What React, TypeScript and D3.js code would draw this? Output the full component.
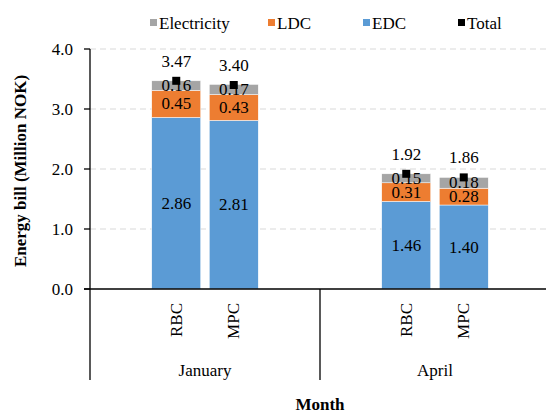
import React from "react";
import * as d3 from "d3";

const months = ["January", "April"];
const strategies = ["RBC", "MPC"];
// order of bars: January RBC, January MPC, April RBC, April MPC
const edc = [2.86, 2.81, 1.46, 1.4];
const ldc = [0.45, 0.43, 0.31, 0.28];
const electricity = [0.16, 0.17, 0.15, 0.18];
const total = [3.47, 3.4, 1.92, 1.86];
const yTicks = [0, 1, 2, 3, 4];

const colors: Record<string, string> = {
  Electricity: "#A5A5A5",
  LDC: "#ED7D31",
  EDC: "#5B9BD5",
};

const W = 546;
const H = 412;
const FONT = '"Liberation Serif", "Times New Roman", Times, serif';
const ts: React.CSSProperties = { fontFamily: FONT, fontSize: 17 };
const tsb: React.CSSProperties = { fontFamily: FONT, fontSize: 17, fontWeight: "bold" };

export default function App() {
  const x0 = d3.scaleBand<string>().domain(months).range([90, 550]).padding(0);
  const x1 = d3
    .scaleBand<string>()
    .domain(strategies)
    .range([0, x0.bandwidth()])
    .paddingInner(0.148)
    .paddingOuter(1.074);
  const y = d3.scaleLinear().domain([0, 4]).range([289, 49]);

  const bars = months.flatMap((m, mi) =>
    strategies.map((s, si) => {
      const i = mi * strategies.length + si;
      return {
        month: m,
        strat: s,
        x: (x0(m) as number) + (x1(s) as number),
        segs: [
          { name: "EDC", v: edc[i] },
          { name: "LDC", v: ldc[i] },
          { name: "Electricity", v: electricity[i] },
        ],
        total: total[i],
      };
    })
  );
  const bw = x1.bandwidth();

  const legendItems = [
    { name: "Electricity", color: colors.Electricity, sq: 150 },
    { name: "LDC", color: colors.LDC, sq: 268 },
    { name: "EDC", color: colors.EDC, sq: 363 },
    { name: "Total", color: "#000", sq: 458 },
  ];

  return (
    <svg
      width={W}
      height={H}
      style={{ position: "fixed", left: 0, top: 0, background: "#fff", fontFamily: FONT }}
    >
      <rect width={W} height={H} fill="#fff" />
      {yTicks.slice(1).map((t) => (
        <line
          key={"g" + t}
          x1={90}
          x2={550}
          y1={y(t)}
          y2={y(t)}
          stroke="#D9D9D9"
          strokeWidth={1}
          strokeDasharray="6,4"
        />
      ))}
      {bars.map((b, bi) => {
        let acc = 0;
        return (
          <g key={"b" + bi}>
            {b.segs.map((sg) => {
              const y0 = acc;
              acc += sg.v;
              const top = y(acc);
              const bot = y(y0);
              return (
                <g key={sg.name}>
                  <rect
                    x={b.x}
                    y={top}
                    width={bw}
                    height={bot - top}
                    fill={colors[sg.name]}
                    stroke="#fff"
                    strokeWidth={0.5}
                  />
                  <text
                    x={b.x + bw / 2}
                    y={(top + bot) / 2}
                    textAnchor="middle"
                    dominantBaseline="central"
                    style={ts}
                    fill="#000"
                  >
                    {sg.v.toFixed(2)}
                  </text>
                </g>
              );
            })}
            <rect
              x={b.x + bw / 2 - 4}
              y={y(b.total) - 4}
              width={8}
              height={8}
              fill="#000"
            />
            <text
              x={b.x + bw / 2}
              y={y(b.total) - 14}
              textAnchor="middle"
              style={ts}
              fill="#000"
            >
              {b.total.toFixed(2)}
            </text>
            <text
              transform={`translate(${b.x + bw / 2},303) rotate(-90)`}
              textAnchor="end"
              dominantBaseline="central"
              style={ts}
            >
              {b.strat}
            </text>
          </g>
        );
      })}
      <line x1={90} x2={90} y1={49} y2={380} stroke="#000" strokeWidth={1.3} />
      <line x1={84} x2={546} y1={289} y2={289} stroke="#000" strokeWidth={1.3} />
      {months.map((m) => (
        <line
          key={"sep" + m}
          x1={(x0(m) as number) + x0.bandwidth()}
          x2={(x0(m) as number) + x0.bandwidth()}
          y1={289}
          y2={380}
          stroke="#000"
          strokeWidth={1.3}
        />
      ))}
      {yTicks.map((t) => (
        <g key={"t" + t}>
          <line x1={84} x2={90} y1={y(t)} y2={y(t)} stroke="#000" strokeWidth={1.3} />
          <text
            x={73}
            y={y(t)}
            textAnchor="end"
            dominantBaseline="central"
            style={ts}
          >
            {t.toFixed(1)}
          </text>
        </g>
      ))}
      {months.map((m) => (
        <text
          key={"m" + m}
          x={(x0(m) as number) + x0.bandwidth() / 2}
          y={370}
          textAnchor="middle"
          dominantBaseline="central"
          style={ts}
        >
          {m}
        </text>
      ))}
      <text x={320} y={404} textAnchor="middle" dominantBaseline="central" style={tsb}>
        Month
      </text>
      <text
        transform={`translate(20,171) rotate(-90)`}
        textAnchor="middle"
        dominantBaseline="central"
        style={tsb}
      >
        Energy bill (Million NOK)
      </text>
      {legendItems.map((l) => (
        <g key={"l" + l.name}>
          <rect x={l.sq} y={19} width={7} height={7} fill={l.color} />
          <text x={l.sq + 9} y={23} dominantBaseline="central" style={ts}>
            {l.name}
          </text>
        </g>
      ))}
    </svg>
  );
}
